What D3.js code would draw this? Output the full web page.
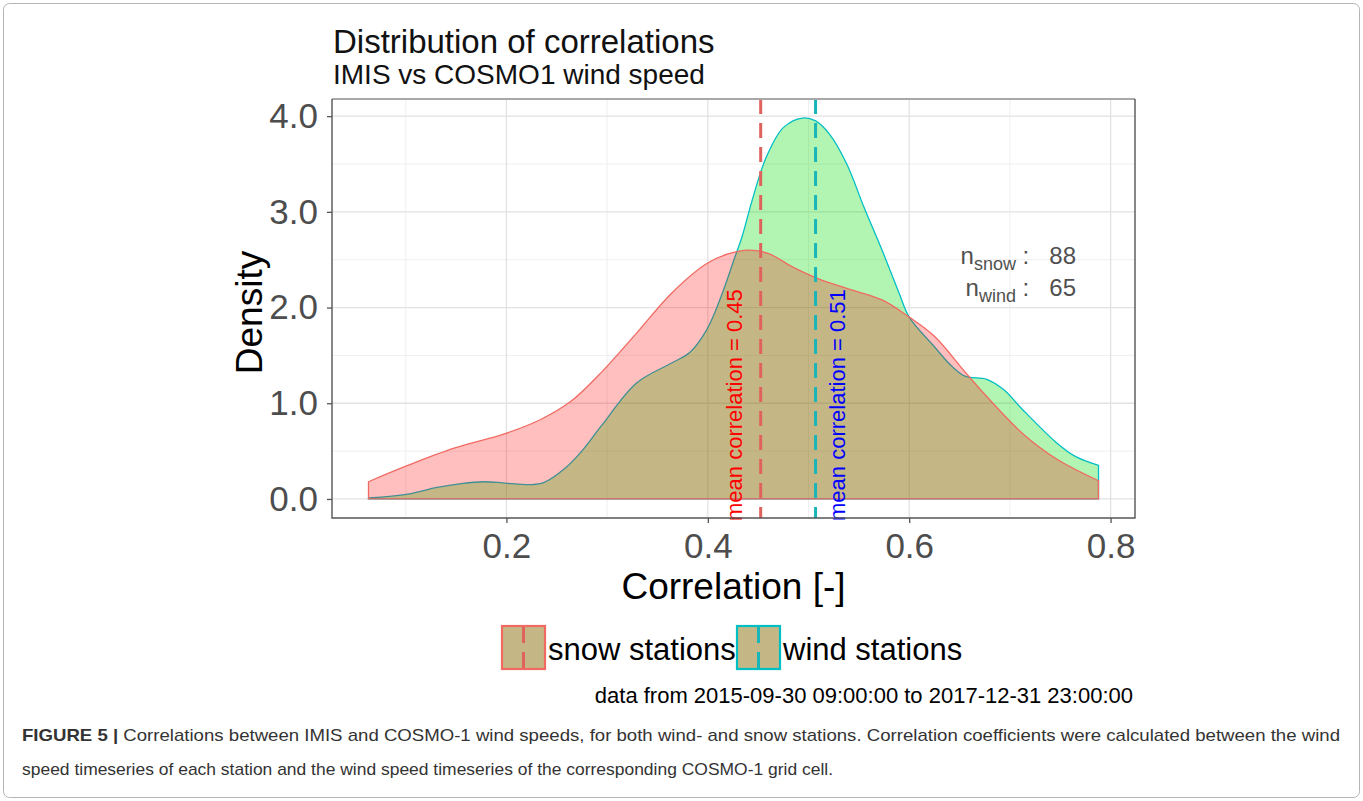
<!DOCTYPE html>
<html>
<head>
<meta charset="utf-8">
<script src="https://d3js.org/d3.v7.min.js"></script>
<style>
  body { margin: 0; background: #fff; }
  svg text { font-family: "Liberation Sans", Arial, Helvetica, sans-serif; }
</style>
</head>
<body>
<div id="chart"></div>
<script>
// density curves: correlation value -> density
const snowX = [0.063, 0.102, 0.148, 0.198, 0.234, 0.264, 0.294, 0.329, 0.364, 0.399, 0.420, 0.441, 0.461, 0.485, 0.510, 0.538, 0.573, 0.600, 0.625, 0.656, 0.677, 0.712, 0.746, 0.788];
const snowDensity = [0.18, 0.35, 0.53, 0.68, 0.83, 1.02, 1.32, 1.73, 2.15, 2.46, 2.56, 2.60, 2.56, 2.42, 2.30, 2.20, 2.08, 1.90, 1.70, 1.32, 1.07, 0.69, 0.42, 0.19];

const windX = [0.063, 0.102, 0.131, 0.155, 0.178, 0.198, 0.224, 0.237, 0.257, 0.274, 0.294, 0.329, 0.364, 0.382, 0.399, 0.413, 0.427, 0.434, 0.444, 0.458, 0.475, 0.494, 0.507, 0.521, 0.538, 0.555, 0.573, 0.590, 0.600, 0.625, 0.642, 0.656, 0.677, 0.694, 0.712, 0.746, 0.764, 0.788];
const windDensity = [0.01, 0.05, 0.12, 0.16, 0.18, 0.166, 0.15, 0.17, 0.31, 0.49, 0.76, 1.21, 1.42, 1.53, 1.77, 2.11, 2.53, 2.74, 3.12, 3.57, 3.88, 3.98, 3.95, 3.81, 3.50, 3.05, 2.60, 2.15, 1.90, 1.59, 1.39, 1.28, 1.25, 1.14, 0.94, 0.59, 0.45, 0.35];

// mean correlation per group
const groups = ["snow stations", "wind stations"];
const meanCorr = [0.4525, 0.507];
const meanLabels = ["mean correlation = 0.45", "mean correlation = 0.51"];
const nNames = ["snow", "wind"];
const nStations = [88, 65];

const xTicks = [0.2, 0.4, 0.6, 0.8];
const xMinor = [0.1, 0.3, 0.5, 0.7];
const yTicks = [0, 1, 2, 3, 4];
const yMinor = [0.5, 1.5, 2.5, 3.5];

const W = 1363, H = 801;
const panel = {left: 332, right: 1135, top: 99, bottom: 518};

const svg = d3.select("#chart").append("svg")
    .attr("width", W)
    .attr("height", H);

svg.append("rect").attr("width", W).attr("height", H).attr("fill", "#fff");

// frame round the whole figure
svg.append("rect")
    .attr("x", 3.5).attr("y", 3.5)
    .attr("width", W - 7).attr("height", H - 7)
    .attr("rx", 6)
    .attr("fill", "none")
    .attr("stroke", "#b5b5b5")
    .attr("stroke-width", 1);

// scales, with ggplot's 5% expansion
const xExt = d3.extent(snowX.concat(windX));
const xPad = (xExt[1] - xExt[0]) * 0.05;
const x = d3.scaleLinear()
    .domain([xExt[0] - xPad, xExt[1] + xPad])
    .range([panel.left, panel.right]);

const yMax = d3.max(snowDensity.concat(windDensity));
const y = d3.scaleLinear()
    .domain([-yMax * 0.05, yMax * 1.05])
    .range([panel.bottom, panel.top]);

const colors = {
    snowFill: "#FF0000", snowLine: "#F06A62",
    windFill: "#00DD00", windLine: "#00BFC4",
    snowMean: "#E0625C", windMean: "#1AB5B8"
};
const snowAlpha = 0.25, windAlpha = 0.3;

// gridlines
const grid = svg.append("g");
grid.selectAll(".xminor").data(xMinor).join("line")
    .attr("x1", d => x(d)).attr("x2", d => x(d))
    .attr("y1", panel.top).attr("y2", panel.bottom)
    .attr("stroke", "#EFEFEF").attr("stroke-width", 1);
grid.selectAll(".yminor").data(yMinor).join("line")
    .attr("y1", d => y(d)).attr("y2", d => y(d))
    .attr("x1", panel.left).attr("x2", panel.right)
    .attr("stroke", "#EFEFEF").attr("stroke-width", 1);
grid.selectAll(".xmajor").data(xTicks).join("line")
    .attr("x1", d => x(d)).attr("x2", d => x(d))
    .attr("y1", panel.top).attr("y2", panel.bottom)
    .attr("stroke", "#E2E2E2").attr("stroke-width", 1.3);
grid.selectAll(".ymajor").data(yTicks).join("line")
    .attr("y1", d => y(d)).attr("y2", d => y(d))
    .attr("x1", panel.left).attr("x2", panel.right)
    .attr("stroke", "#E2E2E2").attr("stroke-width", 1.3);

// density areas, closed down to zero like geom_density
const area = d3.area()
    .x(d => x(d[0]))
    .y0(y(0))
    .y1(d => y(d[1]))
    .curve(d3.curveCatmullRom.alpha(0.5));

const windData = windX.map((v, i) => [v, windDensity[i]]);
const snowData = snowX.map((v, i) => [v, snowDensity[i]]);

svg.append("path")
    .datum(windData)
    .attr("d", area)
    .attr("fill", colors.windFill)
    .attr("fill-opacity", windAlpha)
    .attr("stroke", colors.windLine)
    .attr("stroke-width", 1.3);

svg.append("path")
    .datum(snowData)
    .attr("d", area)
    .attr("fill", colors.snowFill)
    .attr("fill-opacity", snowAlpha)
    .attr("stroke", colors.snowLine)
    .attr("stroke-width", 1.3);

// mean lines
const meanColors = [colors.snowMean, colors.windMean];
svg.selectAll(".mean").data(meanCorr).join("line")
    .attr("x1", d => x(d)).attr("x2", d => x(d))
    .attr("y1", panel.top).attr("y2", panel.bottom)
    .attr("stroke", (d, i) => meanColors[i])
    .attr("stroke-width", 3)
    .attr("stroke-dasharray", "15,9");

// mean labels, rotated; red sits left of its line, blue right of its line
const labelOffset = [-19, 29];
const labelColors = ["#FF0000", "#0000FF"];
svg.selectAll(".meanlab").data(meanCorr).join("text")
    .attr("transform", (d, i) => `translate(${x(d) + labelOffset[i]}, ${panel.bottom + 3}) rotate(-90)`)
    .attr("text-anchor", "start")
    .attr("font-size", 22)
    .attr("fill", (d, i) => labelColors[i])
    .text((d, i) => meanLabels[i]);

// n annotation
const nText = svg.append("g");
nStations.forEach((n, i) => {
    const t = nText.append("text")
        .attr("x", 1076)
        .attr("y", y(2.46) + i * 32)
        .attr("text-anchor", "end")
        .attr("fill", "#505050")
        .attr("font-size", 24)
        .style("white-space", "pre");
    t.append("tspan").text("n");
    t.append("tspan").attr("font-size", 18).attr("dy", 6).text(nNames[i]);
    t.append("tspan").attr("dy", -6).text(" :   " + n);
});

// panel border
svg.append("line")
    .attr("x1", panel.left).attr("x2", panel.right)
    .attr("y1", panel.top).attr("y2", panel.top)
    .attr("stroke", "#a8a8a8").attr("stroke-width", 2);
svg.append("path")
    .attr("d", `M${panel.left},${panel.top}V${panel.bottom}H${panel.right}V${panel.top}`)
    .attr("fill", "none")
    .attr("stroke", "#555")
    .attr("stroke-width", 1.4);

// axes
const xAxis = svg.append("g")
    .attr("transform", `translate(0, ${panel.bottom})`)
    .call(d3.axisBottom(x).tickValues(xTicks).tickFormat(d3.format(".1f")).tickSize(5).tickPadding(10));
const yAxis = svg.append("g")
    .attr("transform", `translate(${panel.left}, 0)`)
    .call(d3.axisLeft(y).tickValues(yTicks).tickFormat(d3.format(".1f")).tickSize(5).tickPadding(9));

[xAxis, yAxis].forEach(a => {
    a.select(".domain").remove();
    a.selectAll(".tick line").attr("stroke", "#555").attr("stroke-width", 1.3);
    a.selectAll(".tick text")
        .attr("fill", "#4D4D4D")
        .attr("font-size", 35)
        .style("font-family", '"Liberation Sans", Arial, sans-serif');
});

// axis titles
svg.append("text")
    .attr("x", (panel.left + panel.right) / 2)
    .attr("y", 599)
    .attr("text-anchor", "middle")
    .attr("font-size", 37)
    .attr("fill", "#000")
    .text("Correlation [-]");

svg.append("text")
    .attr("transform", `translate(262, ${(panel.top + panel.bottom) / 2 + 4}) rotate(-90)`)
    .attr("text-anchor", "middle")
    .attr("font-size", 37)
    .attr("fill", "#000")
    .text("Density");

// titles
svg.append("text")
    .attr("x", 333).attr("y", 53)
    .attr("font-size", 33)
    .attr("fill", "#111")
    .text("Distribution of correlations");
svg.append("text")
    .attr("x", 333).attr("y", 84)
    .attr("font-size", 28)
    .attr("fill", "#111")
    .text("IMIS vs COSMO1 wind speed");

// legend
const keyX = [502, 737];
const keyLines = [colors.snowLine, colors.windLine];
const keyMeans = [colors.snowMean, colors.windMean];
const keySize = 43, keyTop = 626;
groups.forEach((g, i) => {
    const k = svg.append("g").attr("transform", `translate(${keyX[i]}, ${keyTop})`);
    k.append("rect").attr("width", keySize).attr("height", keySize)
        .attr("fill", colors.windFill).attr("fill-opacity", windAlpha);
    k.append("rect").attr("width", keySize).attr("height", keySize)
        .attr("fill", colors.snowFill).attr("fill-opacity", snowAlpha)
        .attr("stroke", keyLines[i]).attr("stroke-width", 2.2);
    k.append("line")
        .attr("x1", keySize / 2).attr("x2", keySize / 2)
        .attr("y1", 1).attr("y2", keySize - 1)
        .attr("stroke", keyMeans[i]).attr("stroke-width", 3)
        .attr("stroke-dasharray", "16,9");
    svg.append("text")
        .attr("x", keyX[i] + keySize + 3)
        .attr("y", 660)
        .attr("font-size", 31)
        .attr("fill", "#000")
        .text(g);
});

svg.append("text")
    .attr("x", 1133).attr("y", 703)
    .attr("text-anchor", "end")
    .attr("font-size", 22)
    .attr("fill", "#000")
    .text("data from 2015-09-30 09:00:00 to 2017-12-31 23:00:00");

// figure caption
const cap1 = svg.append("text")
    .attr("x", 22).attr("y", 741)
    .attr("font-size", 17)
    .attr("fill", "#333")
    .attr("textLength", 1318)
    .attr("lengthAdjust", "spacingAndGlyphs");
cap1.append("tspan").attr("font-weight", "bold").text("FIGURE 5 | ");
cap1.append("tspan").text("Correlations between IMIS and COSMO-1 wind speeds, for both wind- and snow stations. Correlation coefficients were calculated between the wind");

svg.append("text")
    .attr("x", 22).attr("y", 775)
    .attr("font-size", 17)
    .attr("fill", "#333")
    .attr("textLength", 811)
    .attr("lengthAdjust", "spacingAndGlyphs")
    .text("speed timeseries of each station and the wind speed timeseries of the corresponding COSMO-1 grid cell.");
</script>
</body>
</html>
